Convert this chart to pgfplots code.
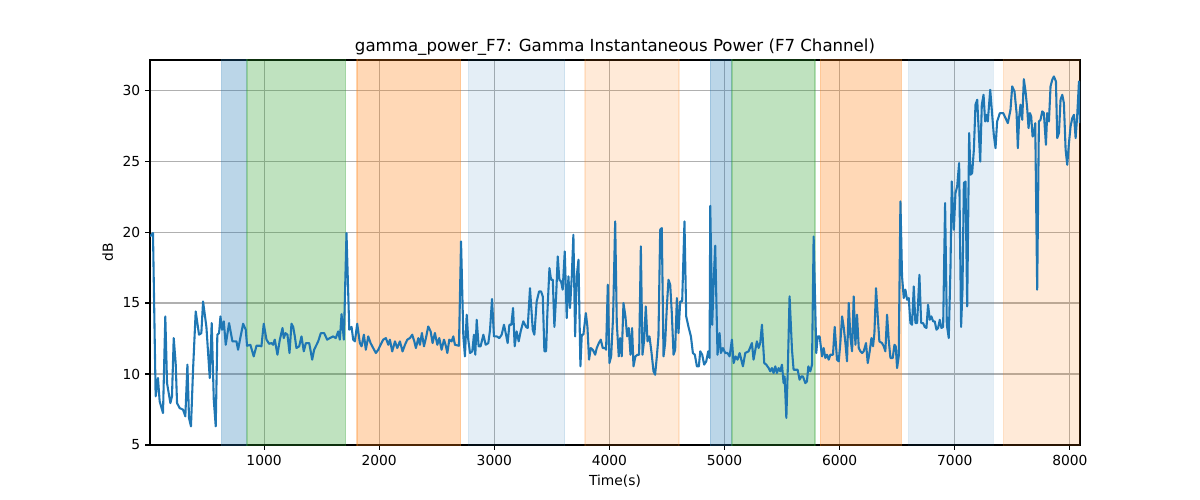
\documentclass[border=0pt]{standalone}
\usepackage{pgfplots}
\pgfplotsset{compat=1.18}
\usepackage{pgfplotstable}
\usepackage{fontspec}
\setmainfont{DejaVu Sans}
\definecolor{tabblue}{HTML}{1F77B4}
\definecolor{tabgreen}{HTML}{2CA02C}
\definecolor{taborange}{HTML}{FF7F0E}
\definecolor{gridgray}{HTML}{B0B0B0}
\pgfplotstableread{
x y
9 19.69
35 19.93
58 8.43
78 9.72
93 8.07
122 7.25
142 14.06
157 9.36
186 7.95
200 8.43
215 12.53
232 10.77
244 7.95
267 7.60
296 7.49
316 7.02
334 10.66
348 6.90
365 6.31
383 10.30
406 14.41
435 12.77
455 12.88
470 15.11
499 13.32
528 9.72
545 13.59
563 8.19
580 6.31
594 12.77
609 12.88
621 14.06
635 13.12
650 13.71
667 12.06
696 13.59
725 12.30
760 12.30
774 11.71
795 12.60
818 13.54
841 13.12
852 11.99
881 12.06
910 11.24
934 11.99
963 11.99
977 11.95
997 13.54
1021 12.42
1044 12.13
1064 12.18
1078 12.06
1093 12.42
1116 11.36
1137 12.42
1160 13.24
1171 12.53
1186 12.88
1203 12.77
1221 11.48
1238 13.54
1253 13.32
1267 12.65
1281 11.83
1305 11.95
1325 12.65
1345 11.60
1363 12.18
1392 12.18
1418 11.01
1435 11.71
1470 12.30
1493 12.88
1522 12.88
1548 12.42
1571 12.53
1600 12.65
1623 12.53
1644 13.00
1658 12.42
1673 14.22
1693 12.42
1716 19.93
1740 13.12
1760 13.32
1774 12.42
1789 12.30
1809 13.54
1832 12.18
1847 11.95
1867 12.77
1884 11.71
1905 12.65
1925 12.18
1948 11.83
1971 11.48
1992 11.71
2012 12.06
2035 12.42
2058 12.53
2079 12.06
2093 12.42
2113 11.59
2137 12.30
2157 11.83
2180 12.30
2203 11.59
2224 12.06
2244 12.42
2267 12.53
2287 12.77
2305 12.30
2319 11.83
2340 12.53
2354 12.06
2371 12.89
2389 11.95
2406 12.53
2426 13.35
2447 13.00
2464 12.18
2484 12.89
2505 12.06
2522 12.53
2542 11.71
2563 12.42
2580 11.95
2592 11.48
2609 12.42
2629 12.30
2644 12.65
2658 12.06
2693 11.99
2711 19.34
2731 12.65
2745 11.24
2760 14.18
2774 12.42
2789 11.48
2809 11.60
2823 12.77
2835 11.36
2847 13.82
2864 11.95
2881 11.95
2905 12.77
2925 12.06
2948 12.18
2963 13.12
2980 15.28
2997 12.65
3021 12.65
3044 12.53
3064 12.77
3084 13.47
3099 12.88
3116 12.18
3131 13.47
3148 13.47
3163 14.65
3177 11.95
3194 13.00
3212 12.30
3229 13.00
3252 13.71
3276 13.32
3290 13.24
3310 16.05
3334 13.12
3348 12.77
3368 15.11
3389 15.82
3406 15.82
3421 15.47
3435 11.60
3450 11.60
3461 14.29
3479 17.46
3493 16.64
3508 16.64
3522 13.32
3537 15.47
3551 18.28
3565 16.64
3580 16.52
3594 15.94
3612 18.64
3629 13.94
3644 16.88
3658 14.65
3673 16.88
3687 19.81
3702 12.65
3716 16.88
3731 18.05
3748 10.54
3760 12.77
3774 12.77
3795 14.29
3809 13.32
3823 11.01
3838 11.83
3855 11.71
3876 11.36
3890 11.83
3908 12.18
3925 12.42
3942 11.83
3963 11.83
3971 11.71
3986 16.29
4000 10.77
4015 11.24
4032 14.06
4050 20.75
4064 13.59
4081 11.24
4093 12.53
4107 11.24
4122 15.00
4139 14.06
4154 12.65
4168 13.24
4183 11.36
4197 13.24
4209 10.54
4226 11.24
4244 11.36
4258 11.36
4273 18.99
4287 11.36
4302 12.42
4316 14.76
4331 12.30
4348 12.65
4366 11.48
4383 10.19
4397 9.95
4412 11.24
4426 12.65
4441 20.16
4455 20.28
4470 11.24
4484 12.18
4499 14.76
4513 16.64
4528 16.29
4542 14.29
4557 11.36
4571 11.71
4586 15.35
4600 12.88
4615 15.11
4632 15.11
4652 20.75
4667 14.06
4687 13.32
4708 12.65
4725 11.48
4742 11.36
4760 10.54
4777 10.54
4789 11.60
4806 11.36
4823 10.66
4841 10.89
4858 11.60
4870 11.13
4876 21.85
4893 13.47
4905 16.41
4919 19.04
4939 11.36
4957 12.88
4968 11.48
4986 11.83
5006 11.48
5026 11.48
5044 11.24
5064 12.42
5079 10.77
5096 11.24
5113 11.01
5131 11.48
5160 10.54
5180 11.48
5209 11.60
5238 12.18
5252 11.01
5281 12.30
5296 11.83
5310 12.18
5325 13.47
5345 10.77
5363 10.66
5383 10.42
5397 10.19
5412 10.42
5426 10.07
5441 10.54
5455 10.07
5470 10.42
5484 10.19
5499 10.66
5513 9.36
5522 9.83
5537 6.90
5551 10.77
5565 15.47
5586 11.71
5600 10.30
5615 10.30
5635 10.30
5652 9.60
5667 9.83
5681 9.83
5702 9.36
5716 9.48
5728 10.54
5745 10.19
5760 10.66
5774 19.69
5797 11.48
5809 12.65
5826 12.65
5847 11.24
5861 11.83
5876 11.13
5890 11.36
5905 11.01
5919 11.36
5942 11.36
5957 13.32
5977 11.01
5992 10.89
6006 12.18
6021 14.06
6035 13.32
6050 12.18
6064 10.89
6079 15.00
6093 12.65
6108 11.60
6122 15.47
6137 12.06
6151 14.18
6166 11.83
6180 11.60
6195 11.48
6209 11.60
6229 12.18
6244 10.77
6261 11.60
6276 12.53
6290 11.95
6302 12.88
6316 16.05
6331 14.06
6345 12.30
6368 12.18
6383 11.95
6397 11.60
6412 14.18
6426 12.42
6441 11.13
6461 11.13
6476 12.06
6487 11.95
6499 10.42
6513 11.24
6528 22.16
6542 16.88
6557 15.35
6571 15.94
6586 15.23
6600 15.35
6615 13.59
6629 13.47
6644 16.17
6658 13.59
6673 13.59
6693 16.99
6708 13.59
6725 13.59
6739 13.32
6754 13.24
6768 14.88
6783 13.82
6797 14.06
6812 13.71
6826 13.71
6841 13.12
6855 13.24
6870 13.82
6884 13.24
6899 13.32
6916 22.04
6931 13.47
6948 12.53
6963 17.58
6974 23.56
6992 20.16
7006 22.74
7021 23.21
7038 24.86
7055 13.32
7067 15.94
7079 23.45
7093 23.56
7108 14.76
7125 26.97
7137 24.04
7151 24.15
7166 25.80
7180 28.97
7195 29.32
7209 26.97
7221 24.97
7235 28.97
7250 29.67
7264 27.79
7276 28.26
7287 27.79
7308 30.02
7325 28.26
7339 26.85
7354 25.91
7368 27.79
7392 28.38
7421 28.38
7441 28.03
7461 27.67
7484 28.61
7499 30.26
7519 29.90
7537 28.38
7548 25.91
7560 28.14
7571 28.97
7586 27.91
7600 30.77
7615 29.90
7629 28.73
7641 27.32
7653 28.38
7664 28.14
7676 26.73
7687 26.85
7699 27.67
7716 15.94
7731 27.79
7745 27.91
7760 28.50
7774 28.38
7792 26.15
7803 28.38
7818 27.79
7832 30.26
7847 30.73
7861 30.96
7879 30.61
7890 26.62
7905 26.97
7919 29.32
7934 29.67
7948 29.08
7963 25.80
7977 24.74
7992 26.27
8006 27.44
8021 28.03
8035 28.26
8050 26.62
8064 28.26
8079 30.61
8088 27.67
}\gammadata
\begin{document}
\begin{tikzpicture}
\begin{axis}[
  at={(0,0)}, anchor=south west,
  scale only axis, width=9.3in, height=3.85in,
  xmin=9, xmax=8088, ymin=5, ymax=32.12,
  xtick={1000,2000,3000,4000,5000,6000,7000,8000},
  ytick={5,10,15,20,25,30},
  scaled x ticks=false,
  /pgf/number format/1000 sep={},
  /pgf/number format/assume math mode=true,
  grid=major,
  grid style={color=gridgray, line width=0.8bp},
  axis line style={black, line width=0.8bp},
  tick style={black, line width=0.8bp},
  tick align=outside, tick pos=left,
  major tick length=3.5bp,
  ticklabel style={font=\fontsize{10}{12}\selectfont},
  label style={font=\fontsize{10}{12}\selectfont},
  title={gamma\_power\_F7: Gamma Instantaneous Power (F7 Channel)},
  title style={font=\fontsize{12}{14}\selectfont, yshift=-6.5bp},
  xlabel={Time(s)}, ylabel={dB},
]
\addplot[fill=tabblue, fill opacity=0.3, draw=tabblue, draw opacity=0.3, line width=1bp] coordinates {(632,4) (632,33) (847,33) (847,4) (632,4)};
\addplot[fill=tabgreen, fill opacity=0.3, draw=tabgreen, draw opacity=0.3, line width=1bp] coordinates {(852,4) (852,33) (1708,33) (1708,4) (852,4)};
\addplot[fill=taborange, fill opacity=0.3, draw=taborange, draw opacity=0.3, line width=1bp] coordinates {(1806,4) (1806,33) (2708,33) (2708,4) (1806,4)};
\addplot[fill=tabblue, fill opacity=0.12, draw=tabblue, draw opacity=0.12, line width=1bp] coordinates {(2774,4) (2774,33) (3612,33) (3612,4) (2774,4)};
\addplot[fill=taborange, fill opacity=0.16, draw=taborange, draw opacity=0.16, line width=1bp] coordinates {(3789,4) (3789,33) (4604,33) (4604,4) (3789,4)};
\addplot[fill=tabblue, fill opacity=0.3, draw=tabblue, draw opacity=0.3, line width=1bp] coordinates {(4876,4) (4876,33) (5061,33) (5061,4) (4876,4)};
\addplot[fill=tabgreen, fill opacity=0.3, draw=tabgreen, draw opacity=0.3, line width=1bp] coordinates {(5064,4) (5064,33) (5786,33) (5786,4) (5064,4)};
\addplot[fill=taborange, fill opacity=0.3, draw=taborange, draw opacity=0.3, line width=1bp] coordinates {(5832,4) (5832,33) (6537,33) (6537,4) (5832,4)};
\addplot[fill=tabblue, fill opacity=0.12, draw=tabblue, draw opacity=0.12, line width=1bp] coordinates {(6600,4) (6600,33) (7334,33) (7334,4) (6600,4)};
\addplot[fill=taborange, fill opacity=0.16, draw=taborange, draw opacity=0.16, line width=1bp] coordinates {(7423,4) (7423,33) (8200,33) (8200,4) (7423,4)};
\addplot[tabblue, line width=1.5bp, mark=none, line join=round] table[x=x, y=y] {\gammadata};
\end{axis}
\path (-1.5in,-0.55in) rectangle (10.5in,4.45in);
\end{tikzpicture}
\end{document}
